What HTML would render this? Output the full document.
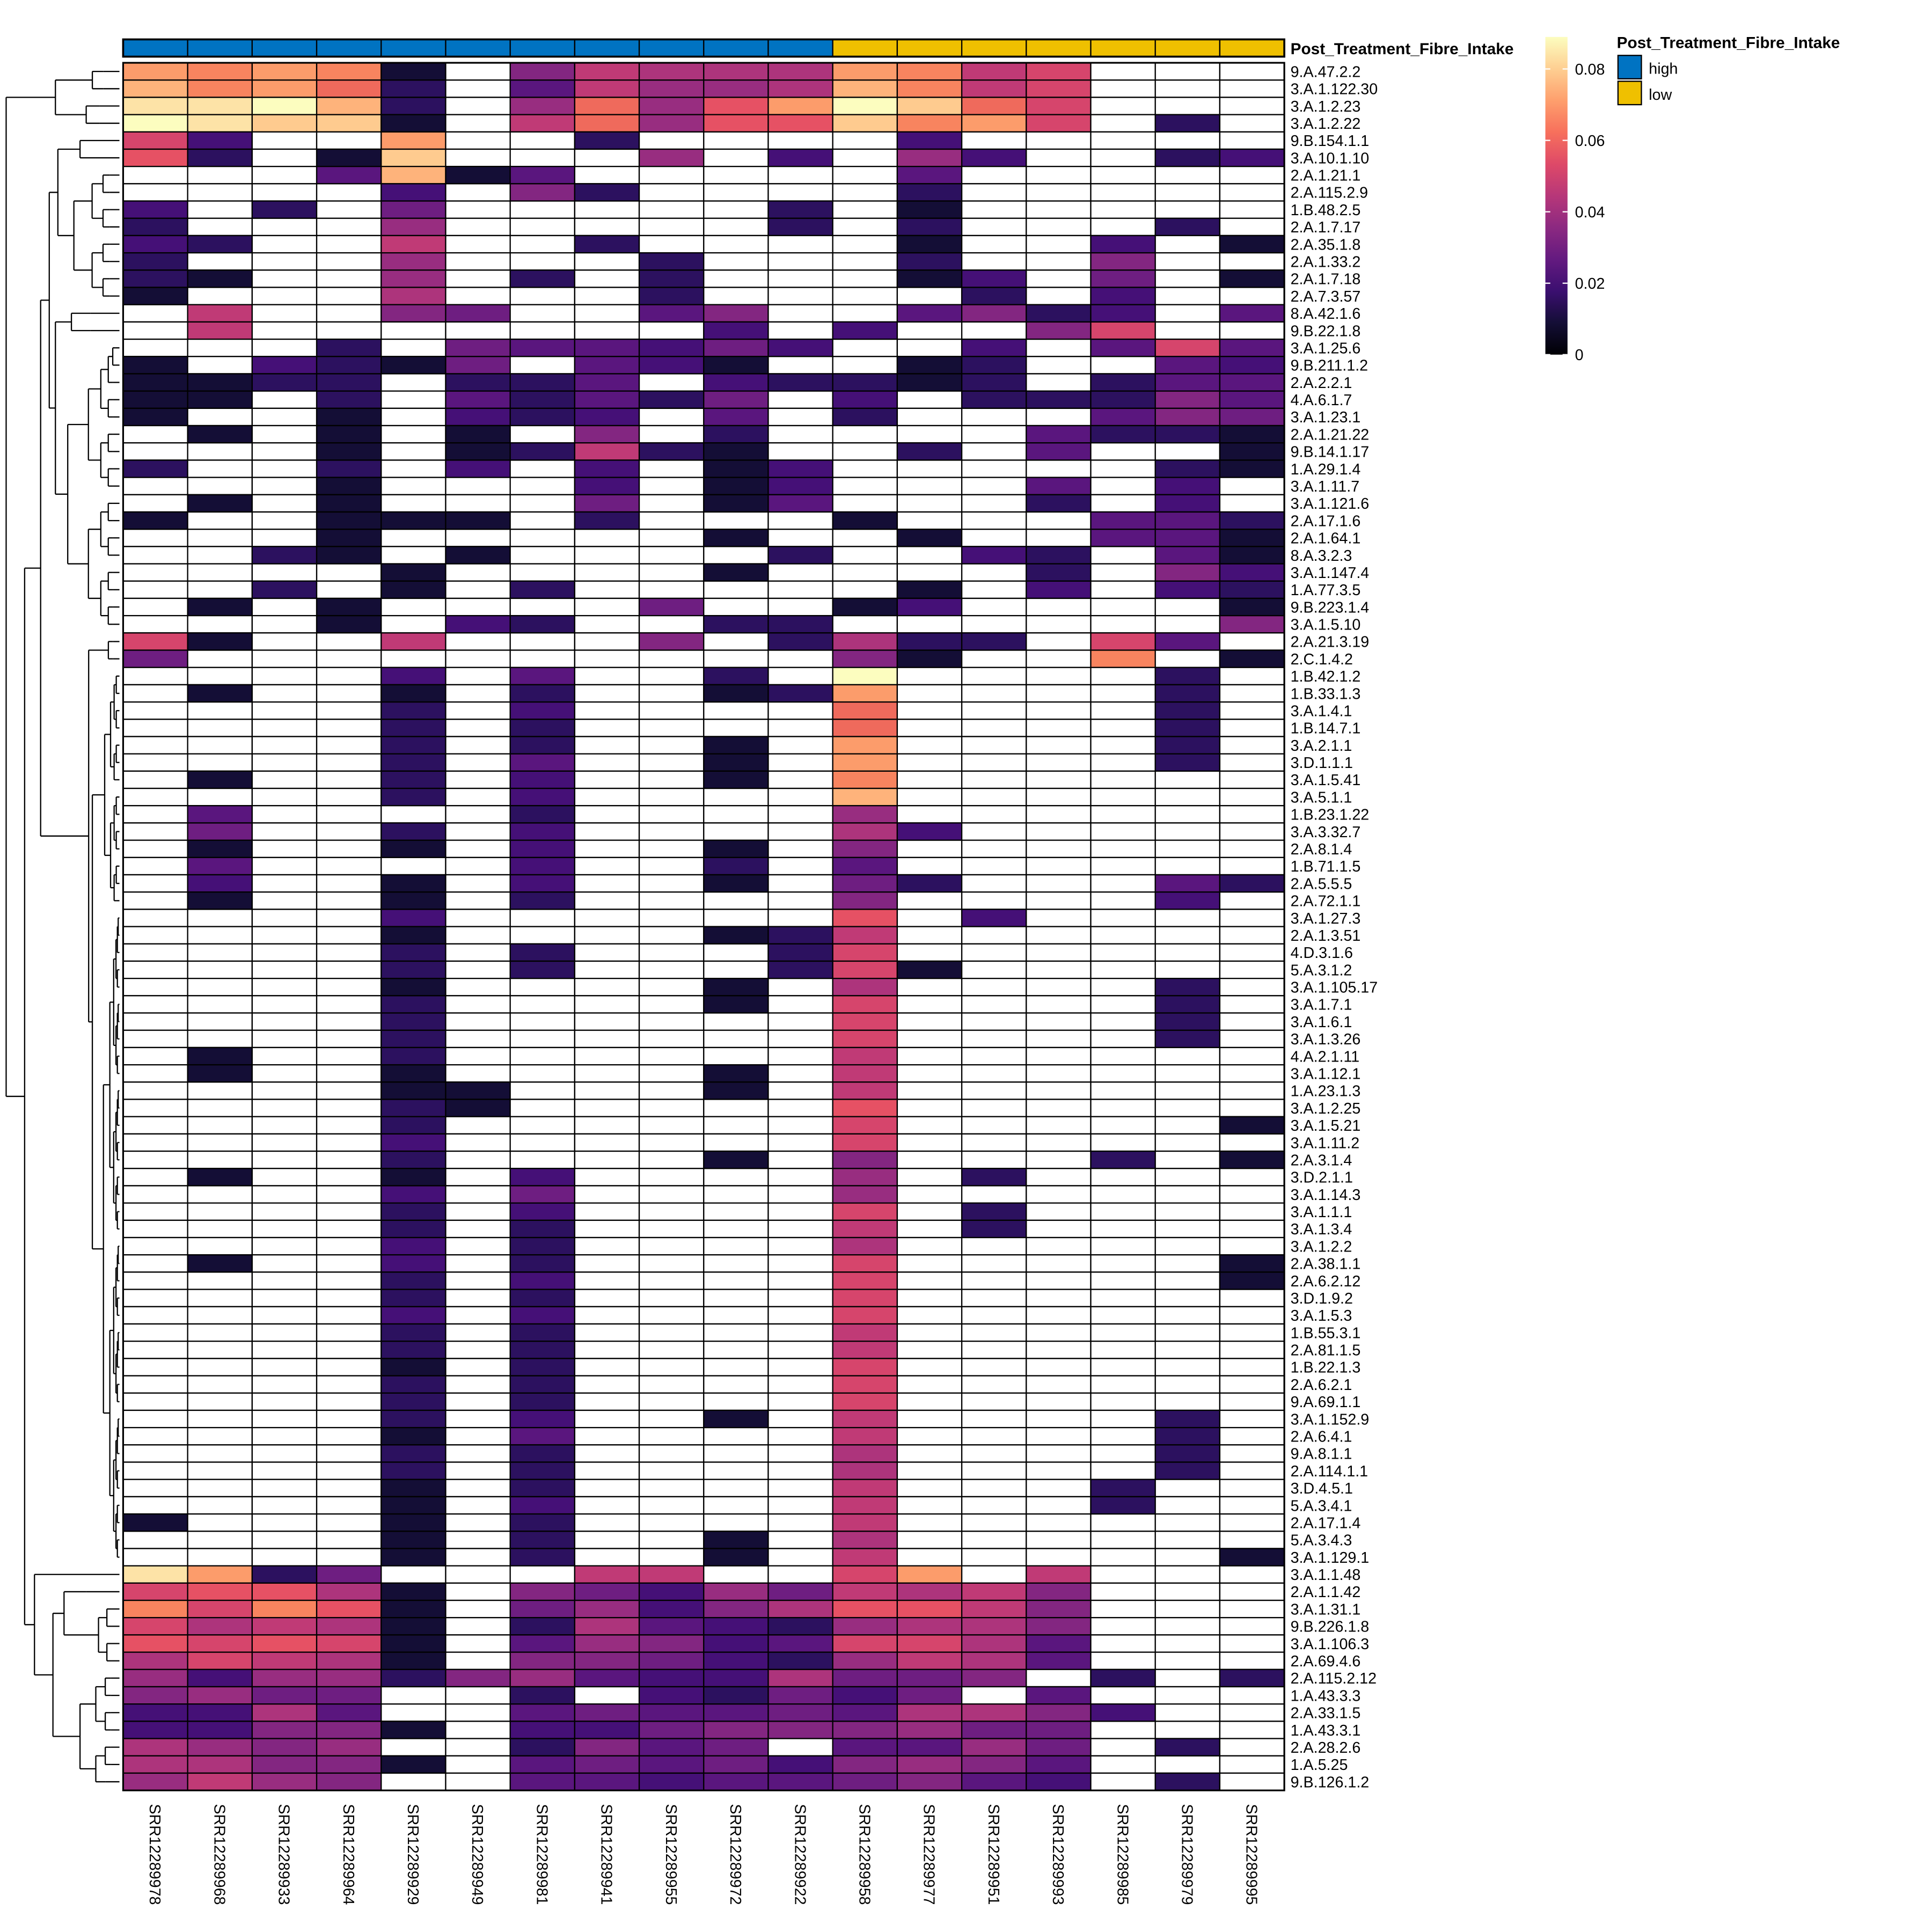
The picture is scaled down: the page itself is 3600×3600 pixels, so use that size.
<!DOCTYPE html>
<html><head><meta charset="utf-8"><style>html,body{margin:0;padding:0;background:#fff}svg{display:block}text{font-family:"Liberation Sans",Arial,sans-serif}</style></head>
<body>
<svg id="s" xmlns="http://www.w3.org/2000/svg" width="3600" height="3600" viewBox="0 0 1569 1569"></svg>
<script>
const P={a:'#140e36',b:'#2c115f',c:'#451077',d:'#5a167e',e:'#6e1e81',f:'#832681',g:'#982d80',h:'#ad347c',i:'#c03a76',j:'#d6456c',k:'#e65164',l:'#ef6a5c',m:'#f8845f',n:'#fc9c6b',o:'#feb37b',p:'#fecb8f',q:'#fde3a7',r:'#fcfdbf'};
const rows=[
["9.A.47.2.2","nmnma.fihhhnmij..."],["3.A.1.122.30","omnlb.digghomij..."],["3.A.1.2.23","qqrob.glgknrplj..."],["3.A.1.2.22","rqppa.ilgkkpmnj.b."],
["9.B.154.1.1","jc..n..b....c....."],["3.A.10.1.10","kb.ap...g.c.gc..bc"],["2.A.1.21.1","...doad.....d....."],["2.A.115.2.9","....c.fb....b....."],
["1.B.48.2.5","c.b.e.....b.a....."],["2.A.1.7.17","b...g.....b.b...b."],["2.A.35.1.8","cb..i..b....a..c.a"],["2.A.1.33.2","b...g...b...b..f.."],
["2.A.1.7.18","ba..g.b.b...ac.e.a"],["2.A.7.3.57","a...h...b....b.c.."],["8.A.42.1.6",".i..fe..df..dfbc.d"],["9.B.22.1.8",".i.......c.c..fj.."],
["3.A.1.25.6","...b.eddcec..c.djd"],["9.B.211.1.2","a.cbae.dca..ab..dc"],["2.A.2.2.1","aabb.bbd.cbbab.bdd"],["4.A.6.1.7","aa.b.dbdbe.c.bbbfd"],
["3.A.1.23.1","a..a.cbc.d.b...dfe"],["2.A.1.21.22",".a.a.a.f.b....dbba"],["9.B.14.1.17","...a.abiba..b.d..a"],["1.A.29.1.4","b..b.c.c.ac.....ba"],
["3.A.1.11.7","...a...c.ac...d.c."],["3.A.1.121.6",".a.a...e.ad...b.c."],["2.A.17.1.6","a..aaa.b...a...ddb"],["2.A.1.64.1","...a.....a..a..dda"],
["8.A.3.2.3","..ba.a....b..cb.da"],["3.A.1.147.4","....a....a....b.fc"],["1.A.77.3.5","..b.a.b.....a.c.cb"],["9.B.223.1.4",".a.a....e..ac....a"],
["3.A.1.5.10","...a.cb..bb......f"],["2.A.21.3.19","ja..i...f.bhbb.jd."],["2.C.1.4.2","e..........fa..m.a"],["1.B.42.1.2","....c.d..b.r....b."],
["1.B.33.1.3",".a..a.b..abn....b."],["3.A.1.4.1","....b.c....l....b."],["1.B.14.7.1","....b.b....l....b."],["3.A.2.1.1","....b.b..a.n....b."],
["3.D.1.1.1","....b.d..a.n....b."],["3.A.1.5.41",".a..b.c..a.m......"],["3.A.5.1.1","....b.c....o......"],["1.B.23.1.22",".d....b....g......"],
["3.A.3.32.7",".e..b.c....hc....."],["2.A.8.1.4",".a..a.c..a.f......"],["1.B.71.1.5",".d....c..b.d......"],["2.A.5.5.5",".c..a.c..a.eb...db"],
["2.A.72.1.1",".a..a.b....f....c."],["3.A.1.27.3","....c......k.c...."],["2.A.1.3.51","....a....abi......"],["4.D.3.1.6","....b.b...bj......"],
["5.A.3.1.2","....b.b...bja....."],["3.A.1.105.17","....a....a.h....b."],["3.A.1.7.1","....b....a.j....b."],["3.A.1.6.1","....b......j....b."],
["3.A.1.3.26","....b......j....b."],["4.A.2.1.11",".a..b......i......"],["3.A.1.12.1",".a..a....a.i......"],["1.A.23.1.3","....aa...a.i......"],
["3.A.1.2.25","....ba.....k......"],["3.A.1.5.21","....b......j.....a"],["3.A.1.11.2","....c......j......"],["2.A.3.1.4","....b....a.f...b.a"],
["3.D.2.1.1",".a..a.c....g.b...."],["3.A.1.14.3","....c.e....g......"],["3.A.1.1.1","....b.c....j.b...."],["3.A.1.3.4","....b.b....i.b...."],
["3.A.1.2.2","....c.b....h......"],["2.A.38.1.1",".a..c.b....j.....a"],["2.A.6.2.12","....b.c....j.....a"],["3.D.1.9.2","....b.b....j......"],
["3.A.1.5.3","....c.c....j......"],["1.B.55.3.1","....b.b....i......"],["2.A.81.1.5","....b.b....i......"],["1.B.22.1.3","....a.b....j......"],
["2.A.6.2.1","....b.b....j......"],["9.A.69.1.1","....b.b....j......"],["3.A.1.152.9","....b.c..a.i....b."],["2.A.6.4.1","....a.d....i....b."],
["9.A.8.1.1","....b.b....h....b."],["2.A.114.1.1","....b.b....h....b."],["3.D.4.5.1","....a.b....i...b.."],["5.A.3.4.1","....a.c....i...b.."],
["2.A.17.1.4","a...a.b....i......"],["5.A.3.4.3","....a.b..a.h......"],["3.A.1.129.1","....a.b..a.i.....a"],["3.A.1.1.48","qnbe...ii..jn.i..."],
["2.A.1.1.42","jkkha.fecgeihif..."],["3.A.1.31.1","mjmka.egcfhkkif..."],["9.B.226.1.8","jhiha.bhdcbghhf..."],["3.A.1.106.3","kjkja.dgfcdjjhd..."],
["2.A.69.4.6","hjiha.ffecbgihd..."],["2.A.115.2.12","gcggbfgdccheef.b.b"],["1.A.43.3.3","fgee..b.cbece.d..."],["2.A.33.1.5","cchd..deddedhhfc.."],
["1.A.43.3.1","ccffa.ccefffgee..."],["2.A.28.2.6","hgfg..bfde.ddge.b."],["1.A.5.25","hhffa.dedecfgfd..."],["9.B.126.1.2","gigf..ddcddefdc.b."]];
const cols=["SRR12289978","SRR12289968","SRR12289933","SRR12289964","SRR12289929","SRR12289949","SRR12289981","SRR12289941","SRR12289955","SRR12289972","SRR12289922","SRR12289958","SRR12289977","SRR12289951","SRR12289993","SRR12289985","SRR12289979","SRR12289995"];
const X0=100,X1=1043,Y0=51,RH=14.03,CW=(X1-X0)/18;
let h='';
for(let j=0;j<18;j++){h+=`<rect x="${X0+j*CW}" y="32" width="${CW}" height="14" fill="${j<11?'#0073c2':'#efc000'}" stroke="#000" stroke-width="1"/>`;}
h+=`<rect x="${X0}" y="32" width="${X1-X0}" height="14" fill="none" stroke="#000" stroke-width="1.6"/>`;
h+=`<text x="1048" y="44" font-size="13" font-weight="bold">Post_Treatment_Fibre_Intake</text>`;
rows.forEach((r,i)=>{const y=Y0+i*RH;for(let j=0;j<18;j++){const c=r[1][j];h+=`<rect x="${(X0+j*CW).toFixed(2)}" y="${y.toFixed(2)}" width="${CW.toFixed(2)}" height="${RH}" fill="${c=='.'?'#fff':P[c]}" stroke="#000" stroke-width="1"/>`;}
h+=`<text x="1048" y="${(y+11.5).toFixed(2)}" font-size="12.5">${r[0]}</text>`;});
h+=`<rect x="${X0}" y="${Y0}" width="${X1-X0}" height="${RH*100}" fill="none" stroke="#000" stroke-width="1.4"/>`;
const CY=Y0+RH*100+11;
cols.forEach((c,j)=>{const x=X0+(j+0.5)*CW;h+=`<text transform="translate(${x-4.5},${CY}) rotate(90)" font-size="12.5">${c}</text>`;});
const mg=['#000004','#140e36','#3b0f70','#641a80','#8c2981','#b73779','#de4968','#f7705c','#fe9f6d','#fecf92','#fcfdbf'];
h+='<defs><linearGradient id="g" x1="0" y1="1" x2="0" y2="0">'+mg.map((c,i)=>`<stop offset="${i/10}" stop-color="${c}"/>`).join('')+'</linearGradient></defs>';
h+=`<rect x="1255" y="30" width="18" height="258" fill="url(#g)"/>`;
[[0.08,56],[0.06,114],[0.04,172],[0.02,230],[0,288]].forEach(t=>{h+=`<line x1="1255" x2="1259" y1="${t[1]}" y2="${t[1]}" stroke="#fff"/><line x1="1269" x2="1273" y1="${t[1]}" y2="${t[1]}" stroke="#fff"/><text x="1279" y="${t[1]+4.5}" font-size="12.5">${t[0]}</text>`;});
h+=`<text x="1313" y="39" font-size="13" font-weight="bold">Post_Treatment_Fibre_Intake</text>`;
h+=`<rect x="1314" y="45" width="19" height="19" fill="#0073c2" stroke="#000"/><text x="1339" y="60" font-size="12.5">high</text>`;
h+=`<rect x="1314" y="66" width="19" height="19" fill="#efc000" stroke="#000"/><text x="1339" y="81" font-size="12.5">low</text>`;
const LX=97;
function cy(i){return Y0+(i-0.5)*RH;}
function build(a,b,x,spec){
 let s=spec&&spec[a+'-'+b];
 if(a==b){return cy(a);}
 let mid=s?s[0]:Math.floor((a+b)/2);
 let x1=s&&s[1]?s[1]:x+(LX-x)*0.4, x2=s&&s[2]?s[2]:x+(LX-x)*0.4;
 let y1=child(a,mid,x1,spec),y2=child(mid+1,b,x2,spec);
 h+=`<line x1="${x}" x2="${x}" y1="${y1}" y2="${y2}" stroke="#000" stroke-width="1"/>`;
 h+=`<line x1="${x}" x2="${x1}" y1="${y1}" y2="${y1}" stroke="#000"/><line x1="${x}" x2="${x2}" y1="${y2}" y2="${y2}" stroke="#000"/>`;
 return (y1+y2)/2;
}
function child(a,b,x,spec){if(a==b){h+=`<line x1="${x}" x2="${LX}" y1="${cy(a)}" y2="${cy(a)}" stroke="#000"/>`;return cy(a);}return build(a,b,x,spec);}
const spec={'1-100':[4,45,20],'1-4':[2,75,70],'5-100':[87,33,28],'5-87':[33,40,72],'5-33':[14,47,45],'5-14':[6,65,60],'15-33':[16,58,55],'34-87':[35,88,75],'36-87':[49,85,84],'88-100':[88,97,43],'89-100':[93,52,65],'89-93':[89,70,80]};
build(1,100,5,spec);
document.getElementById('s').innerHTML=h;
</script>
</body></html>
